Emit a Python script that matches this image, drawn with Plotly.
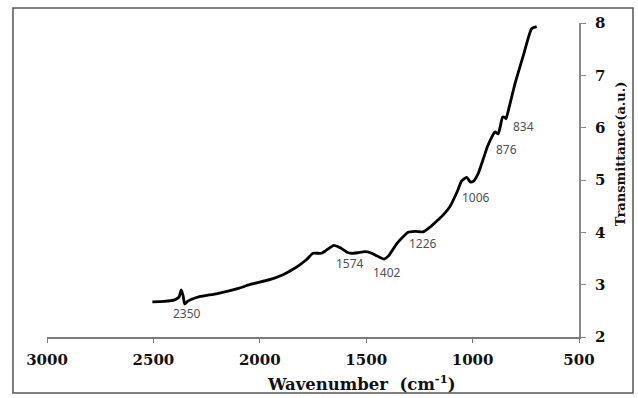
import plotly.graph_objects as go

# FTIR spectrum: wavenumber (cm^-1) vs transmittance (a.u.)
wavenumber = [2505, 2450, 2400, 2380, 2369, 2360, 2353, 2340, 2320, 2283, 2200, 2100,
              2048, 1950, 1891, 1850, 1812, 1780, 1750, 1710, 1690, 1652, 1620, 1590,
              1569, 1540, 1507, 1480, 1460, 1435, 1416, 1395, 1357, 1330, 1303, 1270,
              1232, 1200, 1162, 1146, 1107, 1070, 1052, 1028, 1010, 995, 974, 950,
              931, 910, 895, 880, 870, 859, 850, 843, 835, 800, 760, 723, 699]
transmittance = [2.67, 2.68, 2.71, 2.76, 2.90, 2.78, 2.63, 2.68, 2.72, 2.77, 2.83, 2.93,
                 3.00, 3.10, 3.19, 3.28, 3.38, 3.48, 3.60, 3.60, 3.65, 3.75, 3.70, 3.62,
                 3.60, 3.61, 3.63, 3.61, 3.57, 3.52, 3.49, 3.55, 3.78, 3.90, 4.00, 4.02,
                 4.01, 4.10, 4.24, 4.30, 4.49, 4.80, 4.98, 5.05, 4.96, 4.98, 5.12, 5.40,
                 5.63, 5.82, 5.92, 5.88, 6.02, 6.20, 6.20, 6.17, 6.28, 6.85, 7.40, 7.89, 7.93]

# Band labels and where their text sits
peak_labels = ["2350", "1574", "1402", "1226", "1006", "876", "834"]
label_x = [2344, 1574, 1403, 1234, 984, 839, 763]
label_y = [2.44, 3.41, 3.24, 3.78, 4.67, 5.59, 6.03]

x_ticks = [3000, 2500, 2000, 1500, 1000, 500]
y_ticks = [2, 3, 4, 5, 6, 7, 8]

serif = "DejaVu Serif"
axis_grey = "#7a7a7a"

fig = go.Figure()
fig.add_trace(go.Scatter(
    x=wavenumber, y=transmittance, mode="lines",
    line=dict(color="black", width=2.8, shape="spline", smoothing=0.5),
    showlegend=False, hoverinfo="skip",
))

for txt, lx, ly in zip(peak_labels, label_x, label_y):
    fig.add_annotation(x=lx, y=ly, text=txt, showarrow=False,
                       xanchor="center", yanchor="middle",
                       font=dict(family="Noto Sans", size=12, color="#505050"))

# Axis titles
fig.add_annotation(xref="paper", yref="paper", x=0.592, y=-0.147,
                   xanchor="center", yanchor="middle",
                   text="Wavenumber  (cm<sup>-1</sup>)", showarrow=False,
                   font=dict(family=serif, size=16.5, color="#111", weight="bold"))
fig.add_annotation(xref="paper", yref="paper", x=1.077, y=0.585, textangle=-90,
                   xanchor="center", yanchor="middle",
                   text="Transmittance(a.u.)", showarrow=False,
                   font=dict(family=serif, size=13, color="#111", weight="bold"))

# Outer frame
fig.add_shape(type="rect", xref="paper", yref="paper",
              x0=-0.064, x1=1.1015, y0=-0.178, y1=1.048,
              line=dict(color="#555", width=1.5))

fig.update_layout(
    width=638, height=398,
    margin=dict(l=47, r=59, t=23, b=61),
    paper_bgcolor="white", plot_bgcolor="white",
    xaxis=dict(range=[3000, 500], tickvals=x_ticks, showgrid=False, zeroline=False,
               showline=True, linecolor=axis_grey, linewidth=1.6,
               ticks="outside", ticklen=4, tickcolor=axis_grey, tickwidth=1.2,
               ticklabelstandoff=4,
               tickfont=dict(family=serif, size=15, color="#111", weight="bold")),
    yaxis=dict(range=[2, 8], tickvals=y_ticks, side="right", showgrid=False,
               zeroline=False, showline=True, linecolor="#8a8a8a", linewidth=1.8,
               ticks="outside", ticklen=5, tickcolor="#8a8a8a", tickwidth=1.2,
               ticklabelstandoff=6,
               tickfont=dict(family=serif, size=15, color="#111", weight="bold")),
)

fig.write_html("out.html")
